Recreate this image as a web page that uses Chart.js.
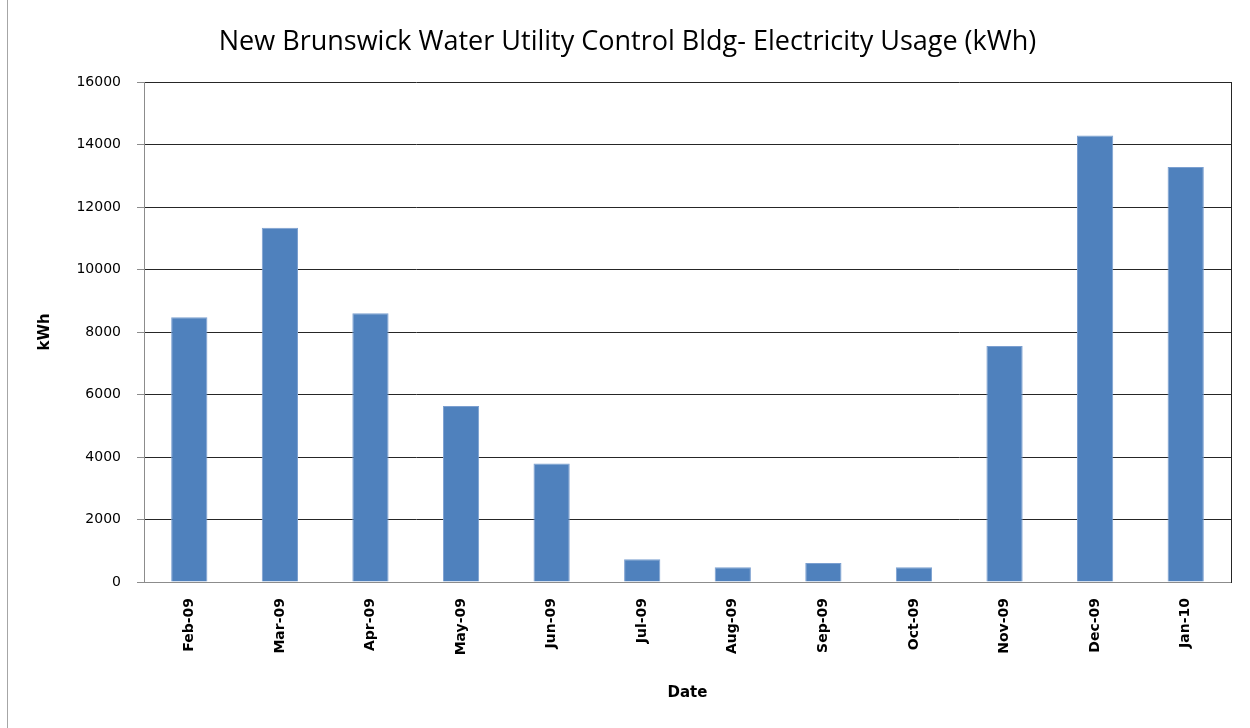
<!DOCTYPE html>
<html>
<head>
<meta charset="utf-8">
<script src="https://cdn.jsdelivr.net/npm/chart.js@4"></script>
<style>
  html, body { margin: 0; padding: 0; background: #fff; }
  #wrap { position: relative; width: 1250px; height: 728px; overflow: hidden; }
  #frame { position: absolute; left: 7px; top: -2px; width: 1300px; height: 740px; border-left: 1px solid #a6a6a6; }
  canvas { position: absolute; left: 0; top: 0; }
</style>
</head>
<body>
<div id="wrap">
  <div id="frame"></div>
  <canvas id="usageChart" width="1250" height="728"></canvas>
</div>
<script>
const months = ["Feb-09", "Mar-09", "Apr-09", "May-09", "Jun-09", "Jul-09",
  "Aug-09", "Sep-09", "Oct-09", "Nov-09", "Dec-09", "Jan-10"];
const usageKwh = [8470, 11340, 8600, 5630, 3790, 730, 470, 610, 470, 7550, 14290, 13280];
const yTicks = [0, 2000, 4000, 6000, 8000, 10000, 12000, 14000, 16000];

const ctx = document.getElementById("usageChart").getContext("2d");

new Chart(ctx, {
  type: "bar",
  data: {
    labels: months,
    datasets: [
      {
        label: "kWh",
        data: usageKwh,
        backgroundColor: "#4f81bd",
        borderColor: "#7b9fd0",
        borderWidth: 1,
        borderSkipped: "bottom",
        barPercentage: 0.4,
        categoryPercentage: 1
      }
    ]
  },
  options: {
    responsive: false,
    animation: false,
    layout: { padding: { left: 12, right: 7, top: 0, bottom: 0 } },
    plugins: {
      legend: { display: false },
      tooltip: { enabled: false },
      title: {
        display: true,
        text: "New Brunswick Water Utility Control Bldg- Electricity Usage (kWh)",
        color: "#000",
        font: { family: "Open Sans", size: 27, weight: "normal", lineHeight: 1.2 },
        padding: { top: 26, bottom: 23.6 }
      }
    },
    scales: {
      x: {
        grid: { display: false, drawTicks: false },
        border: { display: true, color: "#8c8c8c" },
        ticks: {
          color: "#000",
          font: { family: "DejaVu Sans", size: 14, weight: "bold" },
          minRotation: 90,
          maxRotation: 90,
          autoSkip: false,
          padding: 16
        },
        title: {
          display: true,
          text: "Date",
          color: "#000",
          font: { family: "DejaVu Sans", size: 15, weight: "bold" },
          padding: { top: 0, bottom: 26 }
        },
        afterFit(scale) {
          scale.height = 146;
        }
      },
      y: {
        min: 0,
        max: 16000,
        afterBuildTicks(scale) {
          scale.ticks = yTicks.map((v) => ({ value: v }));
        },
        grid: {
          color(c) {
            return c.tick && c.tick.value === 0 ? "#8c8c8c" : "#262626";
          },
          tickColor: "#8c8c8c",
          tickLength: 7,
          lineWidth: 1
        },
        border: { display: true, color: "#8c8c8c" },
        ticks: {
          color: "#000",
          font: { family: "DejaVu Sans", size: 14 },
          padding: 16,
          callback(value) {
            return String(value);
          }
        },
        title: {
          display: true,
          text: "kWh",
          color: "#000",
          font: { family: "DejaVu Sans", size: 15, weight: "bold" },
          padding: { top: 24, bottom: 0 }
        },
        afterFit(scale) {
          scale.width = 132;
        }
      },
      y2: {
        position: "right",
        min: 0,
        max: 16000,
        grid: { display: false, drawTicks: false },
        ticks: { display: false },
        border: { display: true, color: "#262626" },
        afterFit(scale) {
          scale.width = 12;
        }
      }
    }
  }
});
</script>
</body>
</html>
